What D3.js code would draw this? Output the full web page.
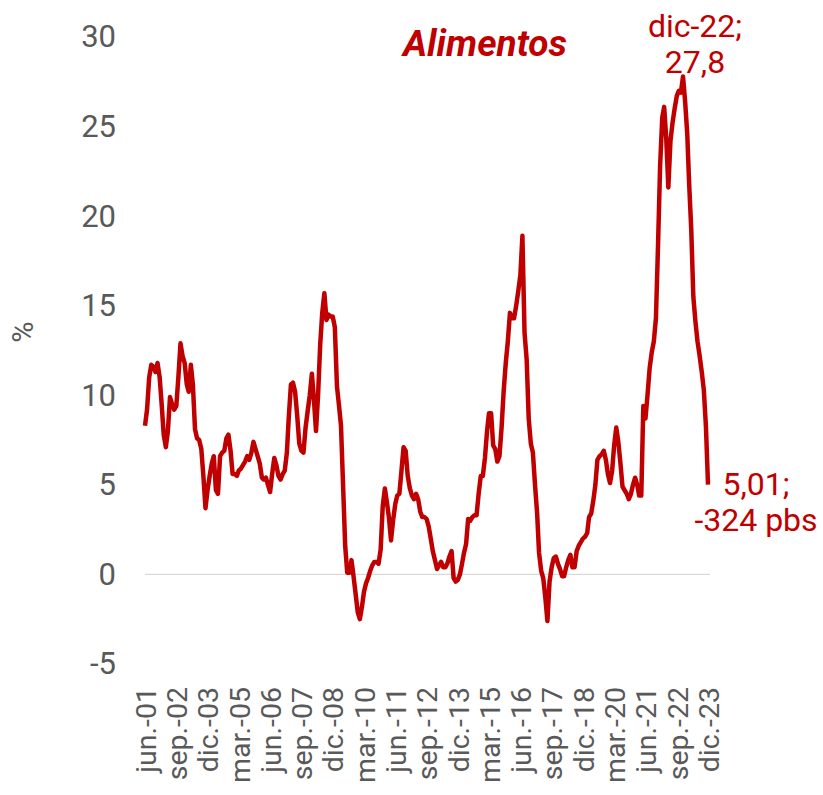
<!DOCTYPE html>
<html>
<head>
<meta charset="utf-8">
<script src="https://cdn.jsdelivr.net/npm/d3@7"></script>
<style>
  body { margin: 0; background: #fff; }
  svg { display: block; font-family: Roboto, "Noto Sans", sans-serif; }
</style>
</head>
<body>
<div id="chart"></div>
<script>
// monthly inflation of food, jun-2001 .. dic-2023 (%)
var startMonth = new Date(2001, 5, 1);
var values = [
  8.3, 9.2, 11.0, 11.7, 11.6, 11.3, 11.8, 11.0, 9.4, 7.8, 7.1, 8.0,
  9.9, 9.5, 9.2, 9.4, 11.0, 12.9, 12.2, 11.8, 10.6, 10.2, 11.7, 10.6,
  8.1, 7.6, 7.5, 7.0, 5.5, 3.7, 4.7, 5.5, 6.2, 6.6, 4.7, 4.5,
  6.6, 6.8, 6.9, 7.6, 7.8, 6.9, 5.6, 5.6, 5.5, 5.8, 5.9, 6.1,
  6.3, 6.6, 6.4, 6.8, 7.4, 7.0, 6.6, 6.2, 5.4, 5.3, 5.4, 5.0,
  4.6, 5.6, 6.5, 6.1, 5.5, 5.3, 5.6, 5.8, 6.8, 8.8, 10.6, 10.7,
  10.2, 8.9, 7.3, 6.9, 6.8, 8.2, 9.1, 10.0, 11.2, 9.8, 8.0, 10.0,
  12.8, 14.6, 15.7, 14.2, 14.5, 14.4, 14.4, 13.8, 10.5, 9.5, 8.3, 5.0,
  1.6, 0.1, 0.1, 0.8, -0.1, -1.1, -2.1, -2.5, -1.8, -1.0, -0.5, -0.2,
  0.2, 0.5, 0.7, 0.7, 0.6, 1.4, 3.8, 4.8, 4.0, 3.2, 1.9, 3.0,
  3.9, 4.4, 4.5, 5.8, 7.1, 6.9, 5.5, 4.8, 4.4, 4.2, 4.5, 4.2,
  3.5, 3.2, 3.2, 3.1, 2.7, 2.0, 1.3, 0.8, 0.3, 0.5, 0.7, 0.4,
  0.4, 0.6, 1.0, 1.3, -0.2, -0.4, -0.3, 0.0, 0.6, 1.2, 1.7, 3.1,
  3.0, 3.2, 3.3, 3.3, 4.5, 5.5, 5.5, 6.5, 8.0, 9.0, 9.0, 7.2,
  7.0, 6.3, 6.6, 8.2, 10.2, 11.8, 13.0, 14.6, 14.3, 14.3, 15.0, 15.8,
  16.7, 18.9, 13.5, 12.0, 8.7, 7.3, 6.8, 5.0, 3.4, 1.2, 0.2, -0.2,
  -1.3, -2.6, -0.4, 0.4, 0.9, 1.0, 0.6, 0.3, -0.1, -0.1, 0.4, 0.8,
  1.1, 0.4, 0.4, 1.3, 1.6, 1.8, 2.0, 2.1, 2.3, 3.2, 3.4, 4.1,
  5.0, 6.4, 6.6, 6.7, 6.9, 6.4, 5.6, 5.1, 5.8, 7.2, 8.2, 7.4,
  6.2, 4.9, 4.7, 4.5, 4.2, 4.5, 5.0, 5.4, 5.0, 4.4, 4.4, 9.4,
  8.7, 10.0, 11.5, 12.4, 13.0, 14.3, 18.3, 22.8, 25.5, 26.1, 24.3, 21.6,
  24.2, 25.2, 26.0, 26.7, 27.0, 26.9, 27.8, 26.4, 24.6, 21.8, 19.2, 15.5,
  14.1, 13.0, 12.2, 11.3, 10.3, 8.25, 5.01
];
var yTicks = [-5, 0, 5, 10, 15, 20, 25, 30];
var xTickLabels = ["jun.-01", "sep.-02", "dic.-03", "mar.-05", "jun.-06", "sep.-07", "dic.-08",
  "mar.-10", "jun.-11", "sep.-12", "dic.-13", "mar.-15", "jun.-16", "sep.-17", "dic.-18",
  "mar.-20", "jun.-21", "sep.-22", "dic.-23"];
var title = "Alimentos";
var peakLabel = ["dic-22;", "27,8"];
var lastLabel = ["5,01;", "-324 pbs"];

var width = 823, height = 795;
var red = "#C00000", grey = "#595959";

var data = values.map(function(v, i) {
  return { date: d3.timeMonth.offset(startMonth, i), value: v };
});
var xTickDates = xTickLabels.map(function(l, i) { return d3.timeMonth.offset(startMonth, i * 15); });

var svg = d3.select('#chart').append('svg')
  .attr('width', width)
  .attr('height', height);

var x = d3.scaleTime()
  .domain(d3.extent(data, function(d) { return d.date; }))
  .range([145, 708]);
var y = d3.scaleLinear()
  .domain([-5, 30])
  .range([664, 37]);

// zero line
svg.append('line')
  .attr('x1', 145).attr('x2', 710)
  .attr('y1', y(0)).attr('y2', y(0))
  .attr('stroke', '#d9d9d9')
  .attr('stroke-width', 1.3);

// y axis (labels only)
var yAxis = d3.axisLeft(y).tickValues(yTicks).tickSize(0).tickPadding(0)
  .tickFormat(function(d) { return String(d); });
var gY = svg.append('g')
  .attr('transform', 'translate(116,0)')
  .call(yAxis);
gY.select('.domain').remove();
gY.selectAll('text')
  .attr('font-size', 31)
  .attr('font-family', 'Roboto, sans-serif')
  .attr('fill', grey);

svg.append('text')
  .attr('transform', 'translate(33,332) rotate(-90)')
  .attr('text-anchor', 'middle')
  .attr('font-size', 29)
  .attr('fill', grey)
  .text('%');

// x axis (rotated labels)
var xAxis = d3.axisBottom(x)
  .tickValues(xTickDates)
  .tickFormat(function(d, i) { return xTickLabels[i]; })
  .tickSize(0);
var gX = svg.append('g')
  .attr('transform', 'translate(0,687)')
  .call(xAxis);
gX.select('.domain').remove();
gX.selectAll('text')
  .attr('font-size', 28.5)
  .attr('font-family', 'Roboto, sans-serif')
  .attr('fill', grey)
  .attr('text-anchor', 'end')
  .attr('dy', '0.36em')
  .attr('y', 0)
  .attr('x', 0)
  .attr('transform', 'rotate(-90)');

// series line
var line = d3.line()
  .x(function(d) { return x(d.date); })
  .y(function(d) { return y(d.value); });
svg.append('path')
  .datum(data)
  .attr('fill', 'none')
  .attr('stroke', red)
  .attr('stroke-width', 4.5)
  .attr('stroke-linejoin', 'round')
  .attr('d', line);

// title
svg.append('text')
  .attr('x', 485).attr('y', 56)
  .attr('text-anchor', 'middle')
  .attr('font-size', 37)
  .attr('font-weight', 'bold')
  .attr('font-style', 'italic')
  .attr('fill', red)
  .text(title);

// annotations
var peak = data[258], last = data[data.length - 1];
svg.append('g').selectAll('text')
  .data(peakLabel).enter().append('text')
  .attr('x', x(peak.date) + 12)
  .attr('y', function(d, i) { return 37 + i * 36; })
  .attr('text-anchor', 'middle')
  .attr('font-size', 32)
  .attr('fill', red)
  .text(function(d) { return d; });

svg.append('g').selectAll('text')
  .data(lastLabel).enter().append('text')
  .attr('x', x(last.date) + 48)
  .attr('y', function(d, i) { return y(last.value) + 10 + i * 36; })
  .attr('text-anchor', 'middle')
  .attr('font-size', 32)
  .attr('fill', red)
  .text(function(d) { return d; });
</script>
</body>
</html>
